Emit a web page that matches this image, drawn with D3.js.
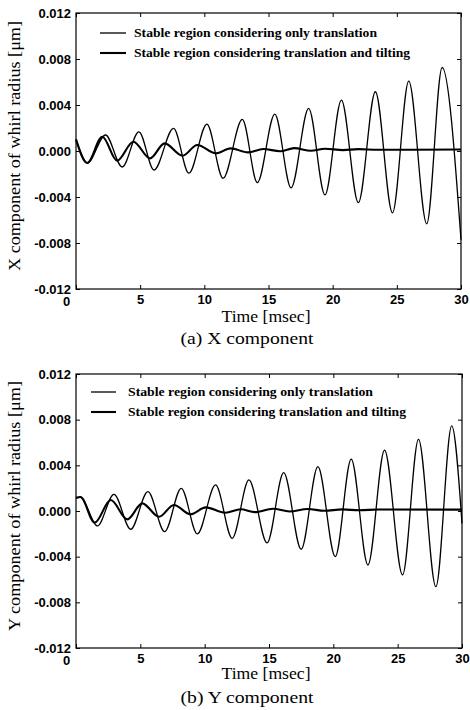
<!DOCTYPE html>
<html>
<head>
<meta charset="utf-8">
<script src="https://cdn.jsdelivr.net/npm/d3@7"></script>
<style>
  html, body { margin: 0; padding: 0; background: #fff; }
  svg { display: block; }
</style>
</head>
<body>
<svg id="chart" width="470" height="710"></svg>
<script>
// ---------------- DATA ----------------
const xTicks = [0, 5, 10, 15, 20, 25, 30];
const yTicks = [-0.012, -0.008, -0.004, 0.000, 0.004, 0.008, 0.012];
const yTickLabels = ["-0.012", "-0.008", "-0.004", "0.000", "0.004", "0.008", "0.012"];
const legendLabels = [
  "Stable region considering only translation",
  "Stable region considering translation and tilting"
];
const xTitle = "Time [msec]";
const panelTitles = ["(a) X component", "(b) Y component"];
const yTitles = ["X component of whirl radius [\u03bcm]", "Y component of whirl radius [\u03bcm]"];

// X component: translation only (growing) — time [msec]
const xTransT = [0, 0.88, 2.3, 3.6, 4.9, 6.08, 7.6, 8.8, 10.2, 11.46, 12.96, 14.13, 15.49, 16.76, 18.13, 19.4, 20.68, 22.0, 23.33, 24.66, 25.93, 27.33, 28.53, 30];
const xTransV = [0.00101, -0.00104, 0.00139, -0.00139, 0.00167, -0.00165, 0.00197, -0.00193, 0.00234, -0.00237, 0.00275, -0.00275, 0.00321, -0.00321, 0.00370, -0.00382, 0.00443, -0.00449, 0.00515, -0.00538, 0.00607, -0.00633, 0.00726, -0.00772];
// X component: translation and tilting (decaying)
const xTiltT = [0, 0.88, 2.05, 3.2, 4.47, 5.77, 6.9, 8.3, 9.45, 10.9, 12.05, 13.4, 14.6, 15.9, 17.0, 18.3, 19.4, 20.8, 22.0, 23.5, 30];
const xTiltV = [0.00101, -0.00104, 0.00124, -0.00084, 0.00081, -0.00064, 0.00066, -0.00041, 0.00052, -0.00020, 0.00023, -0.00012, 0.00017, -0.00002, 0.00025, 0.00002, 0.00020, 0.00008, 0.00016, 0.00011, 0.00013];

// Y component: translation only (growing)
const yTransT = [0, 0.35, 1.66, 2.95, 4.25, 5.59, 6.89, 8.18, 9.43, 10.85, 12.14, 13.44, 14.85, 16.14, 17.5, 18.8, 20.15, 21.39, 22.69, 23.98, 25.38, 26.62, 27.97, 29.2, 30];
const yTransV = [0.00115, 0.00122, -0.00131, 0.00146, -0.00160, 0.00169, -0.00181, 0.00199, -0.00201, 0.00228, -0.00239, 0.00272, -0.00280, 0.00336, -0.00335, 0.00388, -0.00400, 0.00455, -0.00473, 0.00534, -0.00560, 0.00628, -0.00663, 0.00745, -0.00110];
// Y component: translation and tilting (decaying)
const yTiltT = [0, 0.35, 1.45, 2.7, 3.99, 5.15, 6.45, 7.61, 8.9, 10.08, 11.6, 12.8, 13.9, 15.3, 16.6, 18.0, 19.3, 20.7, 22.0, 23.5, 30];
const yTiltV = [0.00115, 0.00122, -0.00102, 0.00096, -0.00073, 0.00067, -0.00050, 0.00053, -0.00029, 0.00032, -0.00015, 0.00015, -0.00010, 0.00020, -0.00004, 0.00018, 0.00002, 0.00014, 0.00006, 0.00013, 0.00012];

// ---------------- LAYOUT ----------------
const panels = [
  { left: 76, right: 461, top: 13, bottom: 289, legY: [33, 53], legX1: 100, legX2: 126, legTx: 134, legW: [243, 276],
    xTitleY: 322, pTitleY: 344, yTitleC: 146,
    series: [[xTransT, xTransV], [xTiltT, xTiltV]] },
  { left: 76, right: 462, top: 374, bottom: 648, legY: [392, 412], legX1: 91, legX2: 116, legTx: 128, legW: [245, 278],
    xTitleY: 679, pTitleY: 703, yTitleC: 506,
    series: [[yTransT, yTransV], [yTiltT, yTiltV]] }
];
const strokeW = [1.3, 2.1];
const sansFont = "'Liberation Sans', Arial, sans-serif";
const serifFont = "'Liberation Serif', 'Times New Roman', serif";

const svg = d3.select("#chart");

panels.forEach((p, pi) => {
  const x = d3.scaleLinear().domain([0, 30]).range([p.left, p.right]);
  const y = d3.scaleLinear().domain([-0.012, 0.012]).range([p.bottom, p.top]);
  const g = svg.append("g");

  // series
  const line = d3.line().x(d => x(d[0])).y(d => y(d[1])).curve(d3.curveMonotoneX);
  p.series.forEach((s, si) => {
    const pts = s[0].map((t, i) => [t, s[1][i]]);
    g.append("path").attr("d", line(pts)).attr("fill", "none")
      .attr("stroke", "#000").attr("stroke-width", strokeW[si]).attr("stroke-linejoin", "round");
  });

  // frame
  g.append("rect").attr("x", p.left).attr("y", p.top)
    .attr("width", p.right - p.left).attr("height", p.bottom - p.top)
    .attr("fill", "none").attr("stroke", "#000").attr("stroke-width", 1.2);

  // axes
  const axB = d3.axisBottom(x).tickValues(xTicks).tickSizeInner(-4).tickSizeOuter(0).tickPadding(6)
    .tickFormat(d3.format("d"));
  const axL = d3.axisLeft(y).tickValues(yTicks).tickSizeInner(-4).tickSizeOuter(0).tickPadding(5)
    .tickFormat((d, i) => yTickLabels[i]);
  const axT = d3.axisTop(x).tickValues(xTicks).tickSizeInner(-4).tickSizeOuter(0).tickFormat("");
  const axR = d3.axisRight(y).tickValues(yTicks).tickSizeInner(-4).tickSizeOuter(0).tickFormat("");

  const gb = g.append("g").attr("transform", `translate(0,${p.bottom})`).call(axB);
  const gl = g.append("g").attr("transform", `translate(${p.left},0)`).call(axL);
  g.append("g").attr("transform", `translate(0,${p.top})`).call(axT);
  g.append("g").attr("transform", `translate(${p.right},0)`).call(axR);
  g.selectAll(".domain").remove();
  g.selectAll(".tick line").attr("stroke", "#000").attr("stroke-width", 1);
  [gb, gl].forEach(a => a.selectAll("text")
    .attr("font-family", sansFont).attr("font-weight", "bold").attr("font-size", 13).attr("fill", "#000"));
  gb.selectAll("text").filter(d => d === 0).attr("dx", -10).attr("dy", "0.85em");

  // legend
  legendLabels.forEach((lab, li) => {
    g.append("line").attr("x1", p.legX1).attr("x2", p.legX2)
      .attr("y1", p.legY[li]).attr("y2", p.legY[li])
      .attr("stroke", "#000").attr("stroke-width", strokeW[li]);
    g.append("text").attr("x", p.legTx).attr("y", p.legY[li]).attr("dy", "0.33em")
      .attr("font-family", serifFont).attr("font-size", 13).attr("font-weight", "bold")
      .attr("textLength", p.legW[li]).attr("lengthAdjust", "spacingAndGlyphs")
      .text(lab);
  });

  // titles
  g.append("text").attr("x", 266).attr("y", p.xTitleY).attr("text-anchor", "middle")
    .attr("font-family", serifFont).attr("font-size", 17)
    .attr("textLength", 89).attr("lengthAdjust", "spacingAndGlyphs").text(xTitle);
  g.append("text").attr("x", 247).attr("y", p.pTitleY).attr("text-anchor", "middle")
    .attr("font-family", serifFont).attr("font-size", 17)
    .attr("textLength", 133).attr("lengthAdjust", "spacingAndGlyphs").text(panelTitles[pi]);
  g.append("text").attr("transform", `translate(20,${p.yTitleC}) rotate(-90)`)
    .attr("text-anchor", "middle")
    .attr("font-family", serifFont).attr("font-size", 17)
    .attr("textLength", 250).attr("lengthAdjust", "spacingAndGlyphs").text(yTitles[pi]);
});
</script>
</body>
</html>
